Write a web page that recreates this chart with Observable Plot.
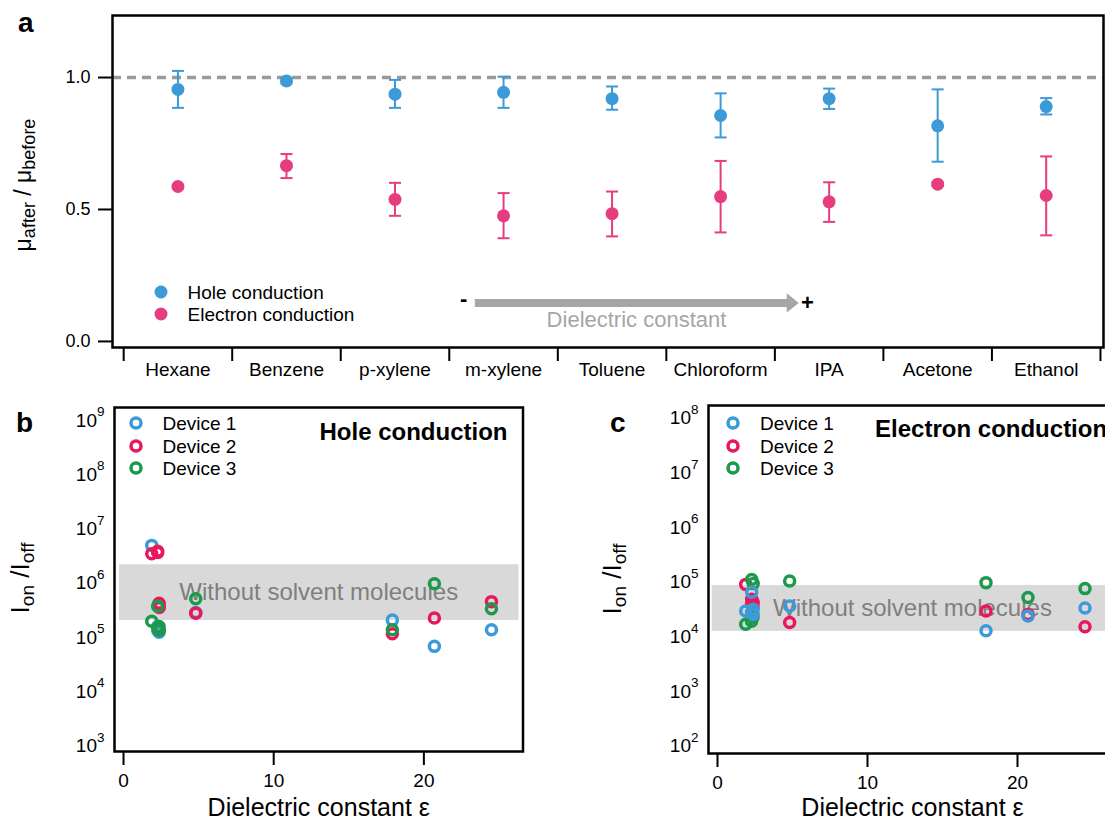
<!DOCTYPE html>
<html><head><meta charset="utf-8">
<script src="https://cdn.jsdelivr.net/npm/d3@7"></script>
<script src="https://cdn.jsdelivr.net/npm/@observablehq/plot@0.6"></script>
<style>
html,body{margin:0;padding:0;background:#fff;}
body{width:1105px;height:821px;overflow:hidden;position:relative;font-family:"Liberation Sans",Arial,sans-serif;color:#000;}
.panel{position:absolute;font-weight:bold;font-size:28px;line-height:28px;}
.ylab{position:absolute;white-space:nowrap;transform:translate(-50%,-50%) rotate(-90deg);line-height:1;}
.leg{position:absolute;font-size:19px;line-height:19px;white-space:nowrap;transform:translateY(-50%);}
.sw{position:absolute;}
svg.plt{position:absolute;max-width:none;overflow:visible;}
</style></head><body>
<script>
// ---------- data ----------
const solvents = ["Hexane","Benzene","p-xylene","m-xylene","Toluene","Chloroform","IPA","Acetone","Ethanol"];
const dielectric = [1.88, 2.28, 2.27, 2.37, 2.38, 4.81, 17.9, 20.7, 24.5];

const conductionTypes = ["Hole conduction","Electron conduction"];
const holeMean  = [0.955, 0.987, 0.937, 0.944, 0.920, 0.856, 0.920, 0.817, 0.890];
const holeLow   = [0.885, 0.977, 0.885, 0.885, 0.878, 0.773, 0.881, 0.681, 0.860];
const holeHigh  = [1.025, 0.997, 0.991, 1.003, 0.966, 0.940, 0.958, 0.955, 0.922];
const electronMean = [0.587, 0.666, 0.538, 0.476, 0.484, 0.549, 0.529, 0.596, 0.553];
const electronLow  = [0.580, 0.619, 0.476, 0.391, 0.398, 0.413, 0.453, 0.589, 0.402];
const electronHigh = [0.594, 0.710, 0.601, 0.562, 0.568, 0.684, 0.603, 0.603, 0.701];

const devices = ["Device 1","Device 2","Device 3"];
const holeOnOffDev1 = [5.0e6, 1.36e5, 1.6e5, 1.25e5, 3.9e5, 2.9e5, 2.1e5, 6.9e4, 1.4e5];
const holeOnOffDev2 = [3.5e6, 3.7e6, 3.9e6, 4.3e5, 3.6e5, 2.8e5, 1.18e5, 2.3e5, 4.6e5];
const holeOnOffDev3 = [2.0e5, 1.48e5, 3.8e5, 1.6e5, 1.36e5, 5.2e5, 1.4e5, 9.8e5, 3.4e5];
const electronOnOffDev1 = [3.0e4, 6.6e4, 2.85e4, 3.24e4, 2.6e4, 3.7e4, 1.3e4, 2.44e4, 3.4e4];
const electronOnOffDev2 = [9.2e4, 4.9e4, 4.0e4, 3.5e4, 4.3e4, 1.85e4, 3.0e4, 2.6e4, 1.54e4];
const electronOnOffDev3 = [1.72e4, 1.13e5, 1.95e4, 2.3e4, 9.5e4, 1.06e5, 9.9e4, 5.3e4, 7.7e4];

const holeBand = {lo: 2.07e5, hi: 2.2e6, label: "Without solvent molecules"};
const electronBand = {lo: 1.27e4, hi: 8.8e4, label: "Without solvent molecules"};
const xTicksEps = [0, 10, 20];
const refLine = 1.0;
// annotation (in data units of panel a)
const trendArrow = {start: 2.74, head: 5.665, y: 0.146, minusX: 2.633, minusY: 0.160, plusX: 5.80, plusY: 0.146, labelX: 4.225, labelY: 0.081, label: "Dielectric constant"};

// ---------- styles ----------
const colorsA = ["#3d9ad8", "#e63c80"];
const deviceColors = ["#3d9ad8", "#e8185e", "#1a9a4a"];
const FONT = "Liberation Sans, Arial, sans-serif";

const capSymbol = {draw(ctx, size) { const r = Math.sqrt(size / Math.PI); ctx.moveTo(-r, 0); ctx.lineTo(r, 0); }};
const headSymbol = {draw(ctx, size) { const r = Math.sqrt(size / Math.PI); ctx.moveTo(r, 0); ctx.lineTo(-r, -1.6 * r); ctx.lineTo(-r, 1.6 * r); ctx.closePath(); }};

function place(el, left, top) { el.classList.add("plt"); el.style.left = left + "px"; el.style.top = top + "px"; document.body.appendChild(el); }
function div(cls, html, left, top, extra) { const d = document.createElement("div"); d.className = cls; d.innerHTML = html; d.style.left = left + "px"; d.style.top = top + "px"; if (extra) Object.assign(d.style, extra); document.body.appendChild(d); return d; }

// ---------- panel a ----------
const idx = solvents.map((_, i) => i);
const seps = d3.range(solvents.length + 1).map(i => i - 0.5);
const mobility = [];
idx.forEach(i => {
  mobility.push({i, type: conductionTypes[0], v: holeMean[i], lo: holeLow[i], hi: holeHigh[i]});
  mobility.push({i, type: conductionTypes[1], v: electronMean[i], lo: electronLow[i], hi: electronHigh[i]});
});

const plotA = Plot.plot({
  width: 1105, height: 390, marginLeft: 112, marginRight: 2, marginTop: 15, marginBottom: 43,
  style: {fontFamily: FONT, fontSize: "18px", color: "#000", background: "transparent", overflow: "visible"},
  x: {type: "linear", domain: [-0.603, 8.528], label: null},
  y: {domain: [-0.023, 1.235], label: null},
  color: {domain: conductionTypes, range: colorsA},
  marks: [
    Plot.ruleY([refLine], {stroke: "#9a9a9a", strokeWidth: 3.5, strokeDasharray: "9,6"}),
    Plot.ruleY([trendArrow], {y: "y", x1: "start", x2: "head", stroke: "#a6a6a6", strokeWidth: 8}),
    Plot.dot([trendArrow], {x: "head", y: "y", symbol: headSymbol, r: 6, fill: "#a6a6a6", stroke: null}),
    Plot.text([trendArrow], {x: "minusX", y: "minusY", text: () => "-", fontWeight: "bold", fontSize: 22, fill: "#000"}),
    Plot.text([trendArrow], {x: "plusX", y: "plusY", text: () => "+", fontWeight: "bold", fontSize: 22, fill: "#000"}),
    Plot.text([trendArrow], {x: "labelX", y: "labelY", text: "label", fontSize: 22, fill: "#a6a6a6"}),
    Plot.ruleX(mobility, {x: "i", y1: "lo", y2: "hi", stroke: "type", strokeWidth: 2}),
    Plot.dot(mobility, {x: "i", y: "lo", symbol: capSymbol, r: 6, stroke: "type", fill: "none", strokeWidth: 2}),
    Plot.dot(mobility, {x: "i", y: "hi", symbol: capSymbol, r: 6, stroke: "type", fill: "none", strokeWidth: 2}),
    Plot.dot(mobility, {x: "i", y: "v", fill: "type", r: 6.5, stroke: null}),
    Plot.frame({stroke: "#000", strokeWidth: 2.5}),
    Plot.axisY({ticks: [0, 0.5, 1], tickFormat: ".1f", tickSize: 14, tickPadding: 8, strokeWidth: 2, fontSize: 18, label: null}),
    Plot.axisX({ticks: seps, tickSize: 14, tickFormat: () => "", strokeWidth: 2, label: null}),
    Plot.axisX({ticks: idx, tickSize: 0, tickPadding: 15, tickFormat: i => solvents[i], fontSize: 19, label: null})
  ]
});
place(plotA, 0, 0);

// ---------- panels b & c ----------
function onOffRows(d1, d2, d3, order) {
  const all = [d1, d2, d3];
  const rows = [];
  order.forEach(k => all[k].forEach((v, i) => rows.push({device: devices[k], solvent: solvents[i], eps: dielectric[i], ratio: v})));
  return rows;
}
function supTicks(svg) {
  svg.querySelectorAll('[aria-label="y-axis tick label"] text').forEach(t => {
    const e = t.textContent.split("^")[1];
    t.textContent = "10";
    const ts = document.createElementNS("http://www.w3.org/2000/svg", "tspan");
    ts.setAttribute("dy", "-10.5");
    ts.setAttribute("font-size", "13.5");
    ts.textContent = e;
    t.appendChild(ts);
  });
}
function onOffPlot(o) {
  const ticks = d3.range(o.tickLo, o.tickHi + 1).map(e => Math.pow(10, e));
  const svg = Plot.plot({
    width: o.width, height: 441, marginLeft: o.ml, marginRight: o.mr, marginTop: o.mt, marginBottom: o.mb,
    style: {fontFamily: FONT, fontSize: "19px", color: "#000", background: "transparent", overflow: "visible"},
    x: {domain: [-0.6, 26.6], label: null},
    y: {type: "log", domain: o.yDomain, label: null},
    color: {domain: devices, range: deviceColors},
    marks: [
      Plot.rect([o.band], {y1: "lo", y2: "hi", fill: "#d9d9d9", insetLeft: o.insetL, insetRight: 4}),
      Plot.text([o.band], {y: d => Math.sqrt(d.lo * d.hi), text: "label", fill: "#7f7f7f", fontSize: 24}),
      Plot.dot(o.rows, {x: "eps", y: "ratio", stroke: "device", r: 5, strokeWidth: 3.5, fill: "none"}),
      Plot.frame({stroke: "#000", strokeWidth: 2.5}),
      Plot.axisY({ticks, tickSize: 0, tickPadding: 10, tickFormat: d => "10^" + Math.round(Math.log10(d)), fontSize: 19, label: null}),
      Plot.axisX({ticks: xTicksEps, tickSize: 14, tickPadding: 8, strokeWidth: 2, fontSize: 19, label: null}),
      Plot.text(["Dielectric constant \u03b5"], {frameAnchor: "bottom", dy: o.xTitleDy, fontSize: 25, lineAnchor: "middle", textAnchor: "middle"}),
      Plot.text([o.title], {frameAnchor: o.titleAnchor, dx: o.titleDx, dy: o.titleDy, textAnchor: o.titleTextAnchor, lineAnchor: "middle", fontWeight: "bold", fontSize: 24})
    ]
  });
  supTicks(svg);
  return svg;
}

const plotB = onOffPlot({
  width: 560, ml: 114, mr: 37.5, mt: 27, mb: 70, insetL: 5,
  yDomain: [Math.pow(10, 2.902), Math.pow(10, 9.239)], tickLo: 3, tickHi: 9,
  band: holeBand, rows: onOffRows(holeOnOffDev1, holeOnOffDev2, holeOnOffDev3, [0, 1, 2]),
  xTitleDy: 56.5, title: "Hole conduction", titleAnchor: "top-right", titleDx: -15.5, titleDy: 25.3, titleTextAnchor: "end"
});
place(plotB, 0, 380);

const plotC = onOffPlot({
  width: 600, ml: 148, mr: 44, mt: 25, mb: 68, insetL: 3.7,
  yDomain: [Math.pow(10, 1.87), Math.pow(10, 8.236)], tickLo: 2, tickHi: 8,
  band: electronBand, rows: onOffRows(electronOnOffDev1, electronOnOffDev2, electronOnOffDev3, [1, 2, 0]),
  xTitleDy: 54.5, title: "Electron conduction", titleAnchor: "top-left", titleDx: 166.6, titleDy: 24.3, titleTextAnchor: "start"
});
place(plotC, 560, 380);

// ---------- labels, legends ----------
div("panel", "a", 18, 9.3);
div("panel", "b", 16, 409.3);
div("panel", "c", 610, 409.3);

div("ylab", '<span style="font-size:23px">\u03bc</span><sub style="font-size:18px">after</sub><span style="font-size:23px"> / \u03bc</span><sub style="font-size:18px">before</sub>', 25, 185);
const ionoff = '<span style="font-size:26px">I</span><sub style="font-size:19px">on</sub><span style="font-size:26px"> /I</span><sub style="font-size:19px">off</sub>';
div("ylab", ionoff, 22, 578);
div("ylab", ionoff, 614, 579);

function swatch(cx, cy, color, filled) {
  const s = document.createElementNS("http://www.w3.org/2000/svg", "svg");
  s.setAttribute("width", 20); s.setAttribute("height", 20);
  s.setAttribute("class", "sw");
  s.style.left = (cx - 10) + "px"; s.style.top = (cy - 10) + "px";
  const c = document.createElementNS("http://www.w3.org/2000/svg", "circle");
  c.setAttribute("cx", 10); c.setAttribute("cy", 10);
  if (filled) { c.setAttribute("r", 6.5); c.setAttribute("fill", color); }
  else { c.setAttribute("r", 5); c.setAttribute("fill", "none"); c.setAttribute("stroke", color); c.setAttribute("stroke-width", 3.5); }
  s.appendChild(c);
  document.body.appendChild(s);
}
const legAy = [291.7, 314];
conductionTypes.forEach((t, k) => { swatch(160.7, legAy[k], colorsA[k], true); div("leg", t, 187.5, legAy[k]); });
const legBy = [423.3, 445.7, 468.3];
devices.forEach((d, k) => {
  swatch(135.7, legBy[k], deviceColors[k], false); div("leg", d, 162.5, legBy[k]);
  swatch(732.7, legBy[k], deviceColors[k], false); div("leg", d, 760, legBy[k]);
});
</script>
</body></html>
